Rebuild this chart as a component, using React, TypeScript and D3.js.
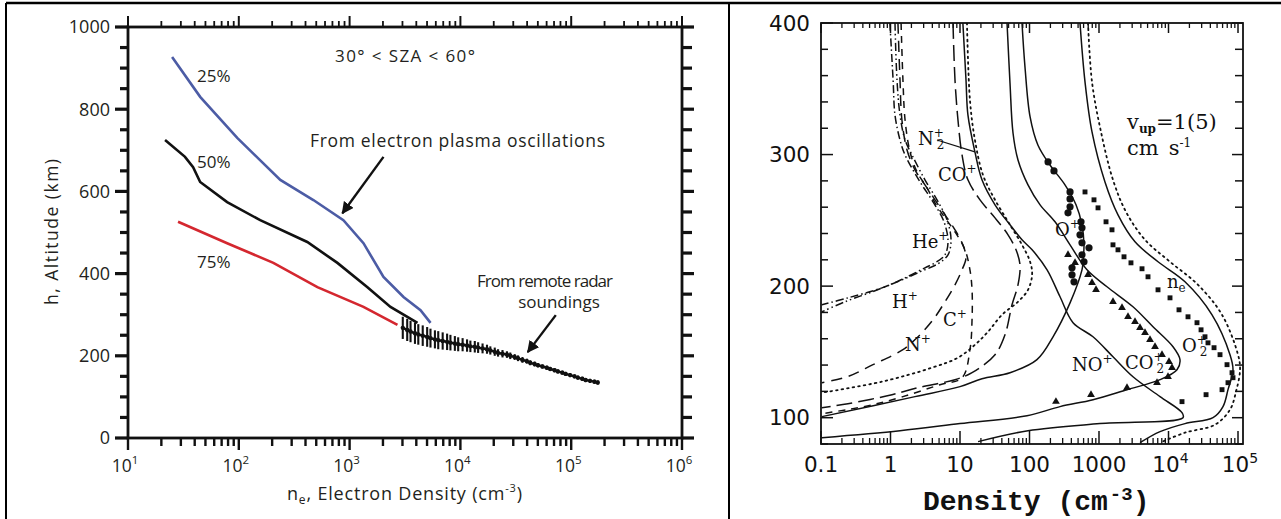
import React from 'react';
import * as d3 from 'd3';

// ---------------- Left panel data ----------------
const blueNe = [25, 44.8, 96.8, 237, 471, 879, 1334, 2022, 3065, 4365, 5380];
const blueAlt = [927, 830, 730, 628, 579, 530, 474, 392, 343, 311, 280];
const blackNe = [21.6, 32.7, 38.7, 44.8, 78.5, 156, 415, 776, 1449, 2339, 4100];
const blackAlt = [725, 684, 659, 623, 574, 530, 477, 426, 367, 319, 280];
const redNe = [28.3, 78.5, 205, 512, 1334, 2704];
const redAlt = [526, 474, 426, 367, 319, 275];

const radarLogNe = [3.48, 3.52, 3.55, 3.59, 3.62, 3.66, 3.70, 3.73, 3.77, 3.80, 3.84, 3.88, 3.91, 3.95, 3.98, 4.02, 4.06, 4.09, 4.13, 4.16, 4.20, 4.24, 4.27, 4.31, 4.34, 4.38, 4.42, 4.45, 4.49, 4.52, 4.56, 4.60, 4.63, 4.67, 4.70, 4.74, 4.78, 4.81, 4.85, 4.88, 4.92, 4.95, 4.99, 5.03, 5.06, 5.10, 5.13, 5.17, 5.21, 5.24];
const radarAlt = [268, 263, 259, 255, 252, 249, 246, 243, 240, 238, 236, 234, 232, 230, 228, 227, 225, 223, 222, 220, 218, 216, 213, 210, 207, 205, 203, 200, 197, 194, 190, 187, 183, 180, 177, 174, 171, 168, 165, 162, 159, 156, 153, 150, 147, 144, 141, 139, 137, 135];
const radarErr = [27, 27, 26, 26, 25, 25, 24, 23, 22, 22, 21, 20, 19, 18, 17, 16, 15, 14, 14, 13, 12, 11, 10, 10, 9, 9, 8, 8, 7, 7, 7, 6, 6, 6, 5, 5, 5, 5, 5, 5, 5, 5, 5, 5, 5, 5, 5, 5, 5, 5];

const leftDecades = [1e1, 1e2, 1e3, 1e4, 1e5, 1e6];
const leftDecadeExp = ['1', '2', '3', '4', '5', '6'];
const leftAltTicks = [0, 200, 400, 600, 800, 1000];

// annotation arrows in data coords [ne, alt]
const arrowPlasma = [[2022, 684], [861, 547]];
const arrowRadar = [[72600, 299], [40550, 209]];

// ---------------- Right panel data ----------------
const hPlus = [[0.98, 400], [1.09, 356.7], [1.16, 330.1], [1.37, 311.1], [1.62, 299.7], [2.66, 279.2], [4.09, 264.1], [5.89, 248.9], [6.72, 233.7], [6.08, 223.8], [4.37, 217.7], [3.13, 213.9], [1.62, 206.3], [0.755, 198.7], [0.244, 191.1], [0.103, 185.8]];
const hePlus = [[1.16, 400], [1.24, 356.7], [1.37, 330.1], [1.62, 311.1], [2.04, 299.7], [3.13, 280.8], [4.67, 265.6], [6.5, 250.4], [7.43, 235.2], [6.72, 223.8], [4.82, 217.0], [2.66, 210.9], [1.37, 204.1], [0.598, 196.5], [0.221, 188.1], [0.103, 180.5]];
const nPlus = [[1.28, 400], [1.37, 356.7], [1.46, 326.3], [1.73, 303.5], [2.25, 288.4], [3.13, 277.0], [4.37, 265.6], [6.08, 254.2], [8.47, 242.8], [11.0, 231.4], [12.2, 221.5], [10.7, 212.4], [8.47, 201.0], [6.08, 188.1], [4.09, 174.4], [2.41, 160.8], [1.51, 151.7], [0.56, 140.3], [0.237, 131.1], [0.103, 126.6]];
const cPlus = [[1.42, 400], [1.51, 356.7], [1.62, 326.3], [1.91, 302.0], [2.41, 286.8], [3.35, 274.7], [4.37, 263.3], [6.08, 251.9], [8.47, 241.3], [11.8, 227.6], [13.9, 212.4], [14.9, 197.2], [14.9, 174.4], [13.9, 151.7], [10.7, 130.4], [5.15, 125.1], [1.51, 116.0], [0.56, 109.9], [0.237, 106.1], [0.103, 103.0]];
const coPlus = [[7.93, 400], [8.47, 356.7], [9.35, 326.3], [10.7, 299.7], [13.0, 280.8], [19.4, 265.6], [31.9, 251.9], [49.1, 239.0], [64.0, 227.6], [73.0, 216.2], [68.3, 201.0], [56.0, 185.8], [44.4, 163.0], [31.9, 147.9], [14.9, 134.2], [8.47, 128.9], [2.49, 122.8], [1.05, 117.5], [0.244, 110.6], [0.103, 107.6]];
const n2PlusAlt = [[12.6, 400], [13.9, 341.5], [16.4, 311.1], [21.4, 284.5], [31.9, 265.6], [52.4, 246.6], [78.0, 231.4], [102, 218.5], [109, 208.6], [95.1, 197.2], [68.3, 188.1], [40.2, 178.2], [25.3, 165.3], [16.4, 155.4], [9.35, 145.6], [3.95, 138.0], [0.755, 127.4], [0.103, 119.0]];
const noPlus = [[11.0, 400], [12.2, 356.7], [13.0, 330.1], [16.4, 302.0], [20.7, 280.8], [31.9, 261.8], [52.4, 246.6], [78.0, 235.2], [109, 227.6], [179, 212.4], [275, 191.9], [423, 172.2], [820, 161.5], [1589, 146.3], [3083, 131.1], [7551, 116.0], [15640, 103.8], [16170, 100.0], [1033, 95.5], [95.1, 90.1], [18.2, 81.8]];
const co2Plus = [[47.5, 400], [52.4, 354.4], [57.9, 316.4], [68.3, 295.9], [95.1, 277.0], [142, 261.8], [233, 248.9], [383, 231.4], [672, 212.4], [1303, 199.5], [3083, 184.3], [5984, 169.1], [11610, 153.9], [14630, 144.1], [13250, 136.5], [7551, 128.9], [2529, 121.3], [820, 113.7], [275, 108.4], [92.0, 101.5], [10, 95.5], [1.37, 90.1], [0.103, 84.8]];
const oPlus = [[78.0, 400], [86.1, 366.6], [102, 328.6], [132, 307.3], [197, 292.1], [324, 277.0], [467, 261.8], [569, 246.6], [608, 231.4], [589, 218.5], [569, 212.4], [383, 187.3], [218, 161.5], [128, 144.1], [52.4, 134.2], [20.7, 129.6], [10, 123.6], [2.25, 116.0], [0.103, 100.8]];
const neSolid = [[533, 400], [629, 355.2], [793, 317.2], [1219, 279.2], [1876, 254.2], [3296, 233.7], [7066, 218.5], [17270, 203.3], [42300, 178.2], [76700, 147.9], [84700, 136.5], [71800, 121.3], [60800, 108.4], [43700, 100.0], [17270, 95.5], [7551, 89.4], [3890, 81.0]];
const neDotted = [[695, 400], [793, 355.2], [1069, 317.2], [1589, 280.8], [2444, 256.5], [4592, 235.2], [10510, 218.5], [26550, 201.0], [58900, 178.2], [100000, 147.9], [107000, 136.5], [93600, 119.8], [76700, 106.1], [46700, 94.7], [17270, 88.6], [7551, 81.0]];

const obsOPlus = [[185, 294.4], [225, 287.6], [383, 271.6], [383, 266.3], [383, 260.3], [358, 255.7], [551, 248.9], [569, 244.3], [533, 239.0], [569, 232.9], [718, 229.1], [569, 223.8], [608, 218.5], [409, 213.9], [409, 208.6], [437, 203.3]];
const obsO2Plus = [[629, 271.6], [847, 265.6], [968, 259.5], [1262, 248.9], [1538, 242.8], [1589, 231.4], [1876, 227.6], [2290, 222.3], [2884, 217.7], [4158, 213.2], [5071, 207.1], [7066, 197.2], [10510, 191.1], [14160, 182.0], [19080, 176.7], [25700, 172.2], [29400, 166.8], [33500, 161.5], [37000, 156.9], [45200, 153.2], [55100, 147.9], [69500, 140.3], [82000, 134.2], [84700, 130.4], [71800, 126.6], [58900, 121.3], [34700, 117.5], [15640, 112.2]];
const obsCO2Plus = [[358, 223.8], [452, 217.7], [695, 208.6], [793, 202.5], [906, 197.2], [1589, 188.1], [2142, 183.5], [2613, 176.7], [3296, 172.9], [3890, 168.4], [4592, 164.6], [5418, 159.2], [6397, 153.9], [8060, 147.9], [10170, 142.5], [11230, 138.0], [9840, 131.1], [6836, 126.6], [2529, 122.8], [767, 117.5], [240, 112.2]];

const rightDecades = [0.1, 1, 10, 100, 1000, 1e4, 1e5];
const rightDecadeLabels = ['0.1', '1', '10', '100', '1000', '10', '10'];
const rightDecadeSup = ['', '', '', '', '', '4', '5'];
const rightAltTicks = [100, 200, 300, 400];

// ---------------- Scales ----------------
const xL = d3.scaleLog().domain([10, 1e6]).range([128, 682]);
const yL = d3.scaleLinear().domain([0, 1000]).range([438, 27]);
const xR = d3.scaleLog().domain([0.1, 1.18e5]).range([821, 1243]);
const yR = d3.scaleLinear().domain([80, 400]).range([444, 23]);

const SANS = '"Open Sans", sans-serif';
const SERIF = '"DejaVu Serif", "Liberation Serif", serif';
const TXT = '#231f20';

export default function App() {
  const zip = (a: number[], b: number[]) => a.map((v, i) => [v, b[i]] as [number, number]);
  const lineL = d3.line<[number, number]>().x(d => xL(d[0])).y(d => yL(d[1]));
  const lineR = d3.line<[number, number]>().x(d => xR(d[0])).y(d => yR(d[1])).curve(d3.curveCatmullRom.alpha(0.5));

  const leftMinorX: number[] = [];
  leftDecades.slice(0, -1).forEach(dc => { for (let k = 2; k <= 9; k++) leftMinorX.push(dc * k); });
  const leftMinorY = d3.range(50, 1000, 50).filter(v => v % 200 !== 0);
  const rightMinorX: number[] = [];
  rightDecades.forEach(dc => { for (let k = 2; k <= 9; k++) if (dc * k < 1.18e5) rightMinorX.push(dc * k); });
  const rightAllY = d3.range(80, 401, 20);

  const radarPts = radarLogNe.map((l, i) => [Math.pow(10, l), radarAlt[i]] as [number, number]);

  const tri = d3.symbol().type(d3.symbolTriangle).size(26)();
  const sq = d3.symbol().type(d3.symbolSquare).size(24)();

  const xLeft = xL(10), xRightL = xL(1e6), yTopL = yL(1000), yBotL = yL(0);
  const x0R = xR(0.1), x1R = xR(1.18e5), yT = yR(400), yB = yR(80);

  return (
    <svg width={1281} height={519} style={{ position: 'absolute', left: 0, top: 0, background: '#fff' }}>
      <defs>
        <marker id="ah" viewBox="0 0 10 10" refX="9" refY="5" markerWidth="5" markerHeight="5" orient="auto">
          <path d="M0,0 L10,5 L0,10 z" fill="#111" />
        </marker>
        <clipPath id="clipR"><rect x={x0R} y={yT} width={x1R - x0R} height={yB - yT} /></clipPath>
      </defs>
      <rect x={0} y={0} width={1281} height={519} fill="#fff" />
      <line x1={6} y1={3} x2={1281} y2={3} stroke="#000" strokeWidth={2.5} />
      <line x1={6} y1={3} x2={6} y2={519} stroke="#000" strokeWidth={2} />
      <line x1={729} y1={3} x2={729} y2={519} stroke="#000" strokeWidth={2} />

      {/* ================= LEFT PANEL ================= */}
      <g>
        {leftMinorY.map(v => (
          <g key={'lmy' + v}>
            <line x1={xLeft - 8} x2={xLeft} y1={yL(v)} y2={yL(v)} stroke="#111" strokeWidth={3.2} />
            <line x1={xRightL} x2={xRightL + 10} y1={yL(v)} y2={yL(v)} stroke="#111" strokeWidth={3.2} />
          </g>
        ))}
        {leftAltTicks.map(v => (
          <g key={'lMy' + v}>
            <line x1={xLeft - 13} x2={xLeft} y1={yL(v)} y2={yL(v)} stroke="#111" strokeWidth={3.2} />
            <line x1={xRightL} x2={xRightL + 12} y1={yL(v)} y2={yL(v)} stroke="#111" strokeWidth={3.2} />
            <text x={110} y={yL(v)} dy="0.35em" textAnchor="end" fontFamily={SANS} fontSize={18} fill={TXT}>{v}</text>
          </g>
        ))}
        {leftMinorX.map(v => (
          <g key={'lmx' + v}>
            <line x1={xL(v)} x2={xL(v)} y1={yTopL} y2={yTopL - 6} stroke="#111" strokeWidth={1.8} />
            <line x1={xL(v)} x2={xL(v)} y1={yBotL} y2={yBotL + 8} stroke="#111" strokeWidth={2.4} />
          </g>
        ))}
        {leftDecades.map((v, i) => (
          <g key={'lMx' + v}>
            <line x1={xL(v)} x2={xL(v)} y1={yTopL} y2={yTopL - 11} stroke="#111" strokeWidth={2} />
            <line x1={xL(v)} x2={xL(v)} y1={yBotL} y2={yBotL + 12} stroke="#111" strokeWidth={2.4} />
            <text x={xL(v) - 3} y={472} textAnchor="middle" fontFamily={SANS} fontSize={17.5} fill={TXT}>
              10<tspan dy={-8} fontSize={11.5}>{leftDecadeExp[i]}</tspan>
            </text>
          </g>
        ))}
        <rect x={xLeft} y={yTopL} width={xRightL - xLeft} height={yBotL - yTopL} fill="none" stroke="#111" strokeWidth={2.8} />

        <path d={lineL(zip(redNe, redAlt)) || ''} fill="none" stroke="#d4272f" strokeWidth={2.6} />
        <path d={lineL(zip(blueNe, blueAlt)) || ''} fill="none" stroke="#4c5ca5" strokeWidth={2.6} />
        <path d={lineL(zip(blackNe, blackAlt)) || ''} fill="none" stroke="#111" strokeWidth={2.6} />

        <path d={lineL(radarPts) || ''} fill="none" stroke="#111" strokeWidth={2.4} />
        {radarPts.map((p, i) => (
          <g key={'rd' + i}>
            <line x1={xL(p[0])} x2={xL(p[0])} y1={yL(p[1] + radarErr[i])} y2={yL(p[1] - radarErr[i])} stroke="#111" strokeWidth={2.1} />
            <circle cx={xL(p[0])} cy={yL(p[1])} r={2.2} fill="#111" />
          </g>
        ))}

        <line x1={xL(arrowPlasma[0][0])} y1={yL(arrowPlasma[0][1])} x2={xL(arrowPlasma[1][0])} y2={yL(arrowPlasma[1][1])} stroke="#111" strokeWidth={2.4} markerEnd="url(#ah)" />
        <line x1={xL(arrowRadar[0][0])} y1={yL(arrowRadar[0][1])} x2={xL(arrowRadar[1][0])} y2={yL(arrowRadar[1][1])} stroke="#111" strokeWidth={2.4} markerEnd="url(#ah)" />

        <text x={335} y={62} fontFamily={SANS} fontSize={17} fill={TXT} textLength={140}>30° &lt; SZA &lt; 60°</text>
        <text x={310} y={147} fontFamily={SANS} fontSize={17.5} fill={TXT} textLength={295}>From electron plasma oscillations</text>
        <text x={197} y={82} fontFamily={SANS} fontSize={17} fill={TXT}>25%</text>
        <text x={197} y={168} fontFamily={SANS} fontSize={17} fill={TXT}>50%</text>
        <text x={197} y={268} fontFamily={SANS} fontSize={17} fill={TXT}>75%</text>
        <text x={477} y={287} fontFamily={SANS} fontSize={17} fill={TXT} textLength={136}>From remote radar</text>
        <text x={559} y={308} textAnchor="middle" fontFamily={SANS} fontSize={17} fill={TXT}>soundings</text>
        <text transform="translate(58,232) rotate(-90)" textAnchor="middle" fontFamily={SANS} fontSize={17.5} fill={TXT} textLength={146}>h, Altitude (km)</text>
        <text x={287} y={500} fontFamily={SANS} fontSize={18} fill={TXT} textLength={235}>
          n<tspan dy={4} fontSize={12}>e</tspan><tspan dy={-4}>, Electron Density (cm</tspan><tspan dy={-8} fontSize={11}>-3</tspan><tspan dy={8}>)</tspan>
        </text>
      </g>

      {/* ================= RIGHT PANEL ================= */}
      <g>
        {rightAllY.map(v => {
          const major = v % 100 === 0;
          return (
            <g key={'ry' + v}>
              <line x1={x0R} x2={x0R + (major ? 12 : 7)} y1={yR(v)} y2={yR(v)} stroke="#111" strokeWidth={1.5} />
              <line x1={x1R} x2={x1R - (major ? 11 : 8)} y1={yR(v)} y2={yR(v)} stroke="#111" strokeWidth={1.5} />
            </g>
          );
        })}
        {rightAltTicks.map(v => (
          <text key={'ryl' + v} x={810} y={yR(v)} dy="0.36em" textAnchor="end" fontFamily='"DejaVu Sans", sans-serif' fontSize={21.5} fill="#111">{v}</text>
        ))}
        {rightMinorX.map(v => (
          <g key={'rmx' + v}>
            <line x1={xR(v)} x2={xR(v)} y1={yT} y2={yT + 5} stroke="#111" strokeWidth={1.3} />
            <line x1={xR(v)} x2={xR(v)} y1={yB} y2={yB - 6} stroke="#111" strokeWidth={1.3} />
          </g>
        ))}
        {rightDecades.map((v, i) => (
          <g key={'rMx' + v}>
            <line x1={xR(v)} x2={xR(v)} y1={yT} y2={yT + 10} stroke="#111" strokeWidth={1.5} />
            <line x1={xR(v)} x2={xR(v)} y1={yB} y2={yB - 13} stroke="#111" strokeWidth={1.5} />
            <text x={xR(v) + (rightDecadeSup[i] ? 2 : 0)} y={472} textAnchor="middle" fontFamily='"DejaVu Sans", sans-serif' fontSize={21.5} fill="#111">
              {rightDecadeLabels[i]}
              {rightDecadeSup[i] ? <tspan dy={-9} fontSize={14}>{rightDecadeSup[i]}</tspan> : null}
            </text>
          </g>
        ))}
        <rect x={x0R} y={yT} width={x1R - x0R} height={yB - yT} fill="none" stroke="#111" strokeWidth={1.8} />

        <g clipPath="url(#clipR)" fill="none" stroke="#111" strokeWidth={1.5}>
          <path d={lineR(hPlus as any) || ''} strokeDasharray="8,3,1.5,3" />
          <path d={lineR(hePlus as any) || ''} strokeDasharray="8,3,1.5,3,1.5,3" />
          <path d={lineR(nPlus as any) || ''} strokeDasharray="11,7" />
          <path d={lineR(cPlus as any) || ''} strokeDasharray="7,6" />
          <path d={lineR(coPlus as any) || ''} strokeDasharray="16,6" />
          <path d={lineR(n2PlusAlt as any) || ''} strokeDasharray="1.6,4" strokeLinecap="round" strokeWidth={1.8} />
          <path d={lineR(noPlus as any) || ''} />
          <path d={lineR(co2Plus as any) || ''} />
          <path d={lineR(oPlus as any) || ''} />
          <path d={lineR(neSolid as any) || ''} />
          <path d={lineR(neDotted as any) || ''} strokeDasharray="1.6,4" strokeLinecap="round" strokeWidth={1.8} />
        </g>

        {obsOPlus.map((d, i) => <circle key={'oc' + i} cx={xR(d[0])} cy={yR(d[1])} r={3.6} fill="#111" />)}
        {obsO2Plus.map((d, i) => <path key={'os' + i} d={sq || ''} transform={`translate(${xR(d[0])},${yR(d[1])})`} fill="#111" />)}
        {obsCO2Plus.map((d, i) => <path key={'ot' + i} d={tri || ''} transform={`translate(${xR(d[0])},${yR(d[1])})`} fill="#111" />)}

        <line x1={937} y1={140} x2={xR(16.4)} y2={yR(302)} stroke="#111" strokeWidth={1.3} />

        <g fontFamily={SERIF} fontSize={18} fill="#111">
          <text x={918} y={145}>N<tspan dy={-8} fontSize={12}>+</tspan><tspan dx={-7} dy={12} fontSize={12}>2</tspan></text>
          <text x={938} y={181}>CO<tspan dy={-8} fontSize={12}>+</tspan></text>
          <text x={912} y={248}>He<tspan dy={-8} fontSize={12}>+</tspan></text>
          <text x={892} y={308}>H<tspan dy={-8} fontSize={12}>+</tspan></text>
          <text x={905} y={351}>N<tspan dy={-8} fontSize={12}>+</tspan></text>
          <text x={943} y={326}>C<tspan dy={-8} fontSize={12}>+</tspan></text>
          <text x={1055} y={236}>O<tspan dy={-8} fontSize={12}>+</tspan></text>
          <text x={1072} y={371}>NO<tspan dy={-8} fontSize={12}>+</tspan></text>
          <text x={1125} y={369}>CO<tspan dy={-8} fontSize={12}>+</tspan><tspan dx={-7} dy={12} fontSize={12}>2</tspan></text>
          <text x={1182} y={352}>O<tspan dy={-8} fontSize={12}>+</tspan><tspan dx={-7} dy={12} fontSize={12}>2</tspan></text>
          <text x={1167} y={288}>n<tspan dy={4} fontSize={12}>e</tspan></text>
          <text x={1127} y={129} fontSize={21}>v<tspan dy={4} fontSize={12} fontWeight="bold">up</tspan><tspan dy={-4}>=1(5)</tspan></text>
          <text x={1127} y={155} fontSize={21}>cm<tspan dx={10}>s</tspan><tspan dy={-8} fontSize={12}>-1</tspan></text>
        </g>

        <text x={923} y={510} fontFamily='"Liberation Mono", "DejaVu Sans Mono", monospace' fontWeight="bold" fontSize={28} fill="#111">
          Density (cm<tspan dx={2} dy={-10} fontSize={19}>-3</tspan><tspan dy={10}>)</tspan>
        </text>
      </g>
    </svg>
  );
}
